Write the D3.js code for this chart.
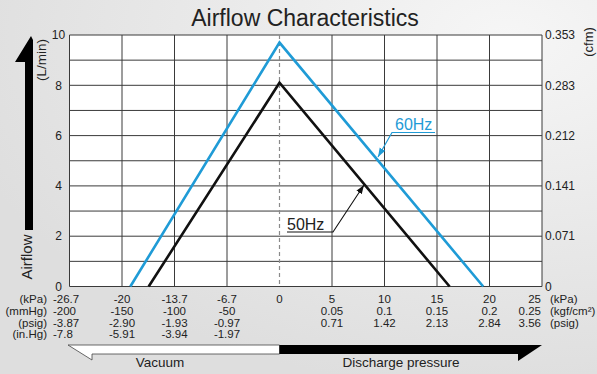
<!DOCTYPE html>
<html lang="en">
<head>
<meta charset="UTF-8">
<title>Airflow Characteristics</title>
<script src="https://d3js.org/d3.v7.min.js"></script>
<style>
  body { margin: 0; }
  svg text { font-family: "Liberation Sans", Arial, sans-serif; fill: #222; }
</style>
</head>
<body>
<div id="chart"></div>
<script>
// x grid positions (kPa), y ticks
const kPaTicks = [-26.7, -20, -13.7, -6.7, 0, 5, 10, 15, 20, 25];
const kPaLabels = ["-26.7", "-20", "-13.7", "-6.7", "0", "5", "10", "15", "20", "25"];
const mmHgLabels = ["-200", "-150", "-100", "-50"];
const psigVacLabels = ["-3.87", "-2.90", "-1.93", "-0.97"];
const inHgLabels = ["-7.8", "-5.91", "-3.94", "-1.97"];
const kgfLabels = ["0.05", "0.1", "0.15", "0.2", "0.25"];
const psigDisLabels = ["0.71", "1.42", "2.13", "2.84", "3.56"];
const yTicks = [0, 2, 4, 6, 8, 10];
const cfmLabels = ["0", "0.071", "0.141", "0.212", "0.283", "0.353"];

// airflow curves: [kPa, L/min]
const flow60 = [[-19.0, 0], [0, 9.7], [19.4, 0]];
const flow50 = [[-16.8, 0], [0, 8.1], [16.2, 0]];

const W = 597, H = 374;
const pl = 69.5, pr = 542, pt = 35, pb = 286.5;
const blue = "#1f9bd6";

const svg = d3.select("#chart").append("svg")
  .attr("width", W).attr("height", H);

const defs = svg.append("defs");
const bg = defs.append("radialGradient").attr("id", "bg")
  .attr("cx", "85%").attr("cy", "10%").attr("r", "95%");
bg.append("stop").attr("offset", "0%").attr("stop-color", "#f6f6f6");
bg.append("stop").attr("offset", "100%").attr("stop-color", "#dedede");

["arrBlue", "arrBlack"].forEach((id, i) => {
  defs.append("marker").attr("id", id)
    .attr("viewBox", "0 0 10 10").attr("refX", 10).attr("refY", 5)
    .attr("markerWidth", 9).attr("markerHeight", 9)
    .attr("markerUnits", "userSpaceOnUse")
    .attr("orient", "auto")
    .append("path").attr("d", "M0,1.5 L10,5 L0,8.5 Z")
    .attr("fill", i === 0 ? blue : "#111");
});

svg.append("rect").attr("width", W).attr("height", H).attr("fill", "url(#bg)");

const step = (pr - pl) / 9;
const x = d3.scaleLinear()
  .domain(kPaTicks)
  .range(kPaTicks.map((d, i) => pl + i * step));
const y = d3.scaleLinear().domain([0, 10]).range([pb, pt]);

// plot area
svg.append("rect")
  .attr("x", pl).attr("y", pt)
  .attr("width", pr - pl).attr("height", pb - pt)
  .attr("fill", "#fff");

// grid
svg.append("g").selectAll("line")
  .data(d3.range(0, 11))
  .join("line")
  .attr("x1", pl).attr("x2", pr)
  .attr("y1", d => y(d)).attr("y2", d => y(d))
  .attr("stroke", "#3a3a3a").attr("stroke-width", 1);

svg.append("g").selectAll("line")
  .data(kPaTicks.filter(d => d !== 0))
  .join("line")
  .attr("x1", d => x(d)).attr("x2", d => x(d))
  .attr("y1", pt).attr("y2", pb)
  .attr("stroke", "#3a3a3a").attr("stroke-width", 1);

svg.append("line")
  .attr("x1", x(0)).attr("x2", x(0))
  .attr("y1", pt).attr("y2", pb)
  .attr("stroke", "#8a8a8a").attr("stroke-width", 1.2)
  .attr("stroke-dasharray", "4,3");

// curves
const line = d3.line().x(d => x(d[0])).y(d => y(d[1]));
svg.append("path").datum(flow60).attr("d", line)
  .attr("fill", "none").attr("stroke", blue).attr("stroke-width", 2.6);
svg.append("path").datum(flow50).attr("d", line)
  .attr("fill", "none").attr("stroke", "#111").attr("stroke-width", 2.6);

// title
svg.append("text").attr("x", 305).attr("y", 26)
  .attr("text-anchor", "middle").attr("font-size", 23)
  .text("Airflow Characteristics");

// left axis
svg.append("g").selectAll("text")
  .data(yTicks).join("text")
  .attr("x", 58.5).attr("y", d => y(d)).attr("dy", "0.35em")
  .attr("text-anchor", "middle").attr("font-size", 12)
  .text(d => d);

// right axis (cfm)
svg.append("g").selectAll("text")
  .data(yTicks).join("text")
  .attr("x", 545).attr("y", d => y(d)).attr("dy", "0.35em")
  .attr("font-size", 12)
  .text((d, i) => cfmLabels[i]);

svg.append("text")
  .attr("transform", "translate(46,60) rotate(-90)")
  .attr("text-anchor", "middle").attr("font-size", 13.5)
  .text("(L/min)");
svg.append("text")
  .attr("transform", "translate(593,42) rotate(-90)")
  .attr("text-anchor", "middle").attr("font-size", 13)
  .text("(cfm)");
svg.append("text")
  .attr("transform", "translate(32,257) rotate(-90)")
  .attr("text-anchor", "middle").attr("font-size", 15)
  .text("Airflow");

// big airflow arrow
svg.append("path")
  .attr("d", "M31,36 L33,40 L33,230 L25,230 L25,62 L15,62 Z")
  .attr("fill", "#000");

// bottom label rows
const rowY = [303, 315, 327, 338];
const colAnchor = i => (i === 0 ? "start" : i === 9 ? "end" : "middle");
const colX = i => (i === 0 ? 53 : i === 9 ? 541 : x(kPaTicks[i]));

function row(labels, startCol, r) {
  svg.append("g").selectAll("text")
    .data(labels).join("text")
    .attr("x", (d, i) => colX(i + startCol))
    .attr("y", rowY[r])
    .attr("text-anchor", (d, i) => colAnchor(i + startCol))
    .attr("font-size", 11.5)
    .text(d => d);
}
row(kPaLabels, 0, 0);
row(mmHgLabels, 0, 1);
row(psigVacLabels, 0, 2);
row(inHgLabels, 0, 3);
row(kgfLabels, 5, 1);
row(psigDisLabels, 5, 2);

const unitsLeft = ["(kPa)", "(mmHg)", "(psig)", "(in.Hg)"];
svg.append("g").selectAll("text")
  .data(unitsLeft).join("text")
  .attr("x", 47).attr("y", (d, i) => rowY[i])
  .attr("text-anchor", "end").attr("font-size", 11.5)
  .text(d => d);

const unitsRight = ["(kPa)", "(kgf/cm²)", "(psig)"];
svg.append("g").selectAll("text")
  .data(unitsRight).join("text")
  .attr("x", 550).attr("y", (d, i) => rowY[i])
  .attr("font-size", 11.5)
  .text(d => d);

// vacuum / discharge arrows
svg.append("path")
  .attr("d", `M68,345 L${x(0)},345 L${x(0)},354 L92,354 L92,360 Z`)
  .attr("fill", "#fff").attr("stroke", "#444").attr("stroke-width", 0.8);
svg.append("path")
  .attr("d", `M${x(0)},345 L542,345 L518,361 L518,354 L${x(0)},354 Z`)
  .attr("fill", "#000");

svg.append("text").attr("x", 160).attr("y", 367)
  .attr("text-anchor", "middle").attr("font-size", 13.5).text("Vacuum");
svg.append("text").attr("x", 401).attr("y", 367)
  .attr("text-anchor", "middle").attr("font-size", 13.5).text("Discharge pressure");

// series labels with leaders
svg.append("text").attr("x", 395).attr("y", 129.5)
  .attr("font-size", 16).style("fill", blue).text("60Hz");
svg.append("path")
  .attr("d", "M435,132.5 L392,132.5 L378,157")
  .attr("fill", "none").attr("stroke", blue).attr("stroke-width", 1.2)
  .attr("marker-end", "url(#arrBlue)");

svg.append("text").attr("x", 287).attr("y", 229.5)
  .attr("font-size", 16).text("50Hz");
svg.append("path")
  .attr("d", "M287,232 L333,232 L364,185")
  .attr("fill", "none").attr("stroke", "#111").attr("stroke-width", 1.1)
  .attr("marker-end", "url(#arrBlack)");
</script>
</body>
</html>
